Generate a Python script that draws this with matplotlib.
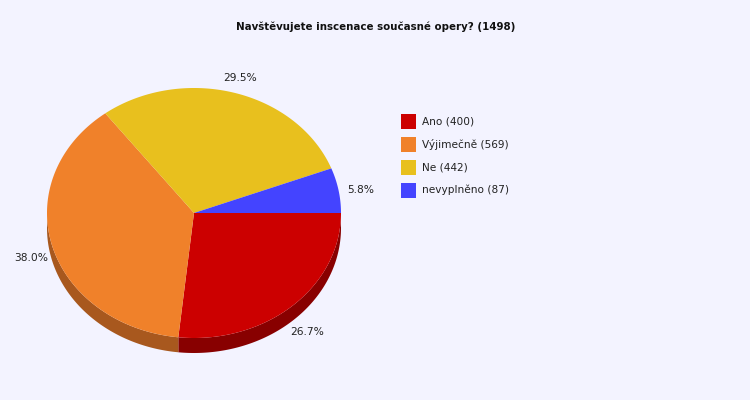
import numpy as np
import matplotlib

matplotlib.use("Agg")
import matplotlib.pyplot as plt
from matplotlib.patches import Polygon, Rectangle

title = "Navštěvujete inscenace současné opery? (1498)"
labels = ["Ano", "Výjimečně", "Ne", "nevyplněno"]
counts = [400, 569, 442, 87]
colors = ["#CC0000", "#F0812A", "#E8C01E", "#4444FF"]
side_colors = ["#880000", "#A8581E", "#9C8014", "#2D2DAA"]

BG = "#F3F3FF"
cx, cy, rx, ry, depth = 194, 213, 147, 125, 15

fig = plt.figure(figsize=(7.5, 4), dpi=100, facecolor=BG)
ax = fig.add_axes([0, 0, 1, 1])
ax.set_xlim(0, 750)
ax.set_ylim(400, 0)
ax.axis("off")

total = sum(counts)
fracs = [c / total for c in counts]
edges = np.concatenate([[0], np.cumsum(fracs)]) * 360.0


def arc(a0, a1, dy=0.0, n=200):
    t = np.radians(np.linspace(a0, a1, n))
    return np.column_stack([cx + rx * np.cos(t), cy + dy + ry * np.sin(t)])


# sides (only the front half, screen angles 0..180 with y down)
for i in range(len(counts)):
    a0, a1 = max(edges[i], 0), min(edges[i + 1], 180)
    if a1 <= a0:
        continue
    top = arc(a0, a1)
    bot = arc(a0, a1, depth)[::-1]
    ax.add_patch(Polygon(np.vstack([top, bot]), closed=True,
                         facecolor=side_colors[i], edgecolor="none"))

# top faces
for i in range(len(counts)):
    pts = np.vstack([[cx, cy], arc(edges[i], edges[i + 1])])
    ax.add_patch(Polygon(pts, closed=True, facecolor=colors[i], edgecolor="none"))

# percentage labels
for i, f in enumerate(fracs):
    mid = np.radians((edges[i] + edges[i + 1]) / 2)
    k = 1.15
    x = cx + k * rx * np.cos(mid)
    y = cy + k * ry * np.sin(mid) + 3
    if np.sin(mid) > 0:
        y += depth * np.sin(mid) * 0.8
    ax.text(x, y, f"{f * 100:.1f}%", ha="center", va="center",
            fontsize=7.7, color="#222222")

ax.text(376, 27, title, ha="center", va="center", fontsize=7.35,
        fontweight="bold", color="#111111")

# legend
for i, (lab, c) in enumerate(zip(labels, counts)):
    y = 121 + 23 * i
    ax.add_patch(Rectangle((401, y - 7.5), 15, 15, facecolor=colors[i],
                           edgecolor="none"))
    ax.text(422, y, f"{lab} ({c})", ha="left", va="center", fontsize=7.6,
            color="#222222")

fig.savefig("out.png", dpi=100, facecolor=BG)
